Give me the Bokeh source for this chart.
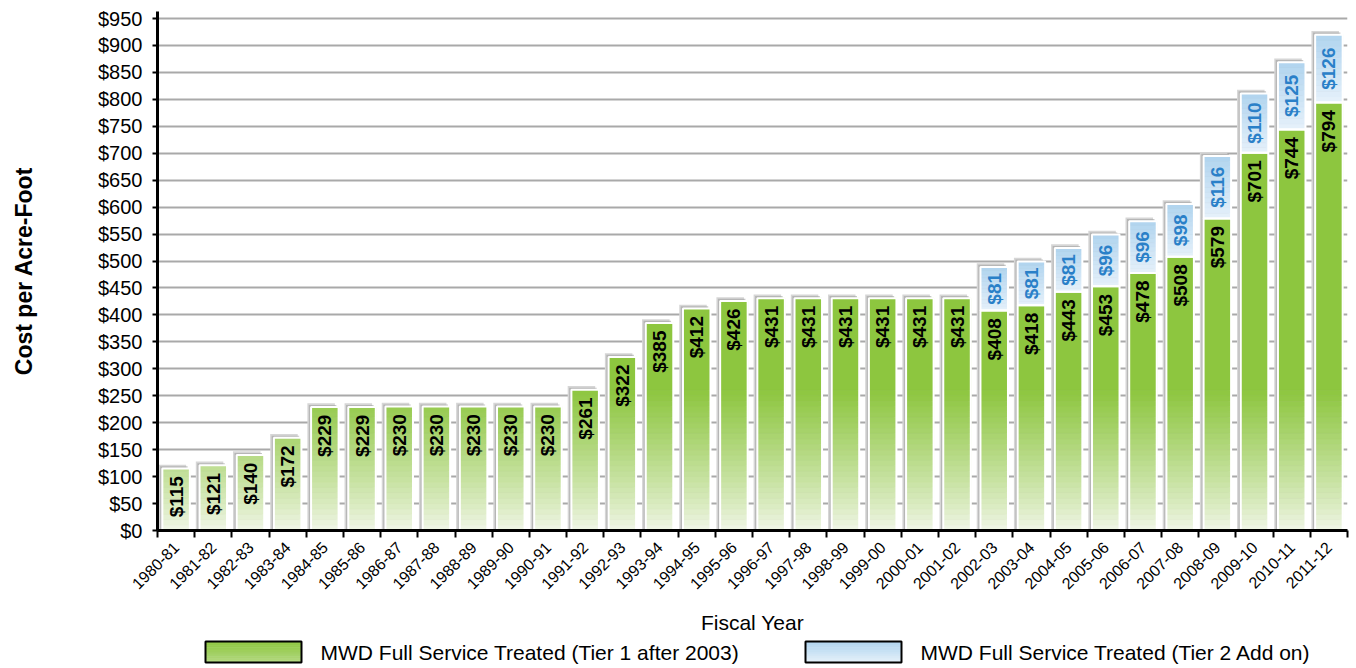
import numpy as np
from math import pi
from bokeh.plotting import figure
from bokeh.models import (Range1d, FixedTicker, SingleIntervalTicker, PrintfTickFormatter,
                          CustomJSTickFormatter)
from bokeh.layouts import column
from bokeh.core.properties import value
from bokeh.embed import file_html
from bokeh.resources import INLINE

# ---------------- data ----------------
years = ["1980-81", "1981-82", "1982-83", "1983-84", "1984-85", "1985-86", "1986-87", "1987-88",
         "1988-89", "1989-90", "1990-91", "1991-92", "1992-93", "1993-94", "1994-95", "1995-96",
         "1996-97", "1997-98", "1998-99", "1999-00", "2000-01", "2001-02", "2002-03", "2003-04",
         "2004-05", "2005-06", "2006-07", "2007-08", "2008-09", "2009-10", "2010-11", "2011-12"]
tier1 = [115, 121, 140, 172, 229, 229, 230, 230, 230, 230, 230, 261, 322, 385, 412, 426,
         431, 431, 431, 431, 431, 431, 408, 418, 443, 453, 478, 508, 579, 701, 744, 794]
tier2 = [0, 0, 0, 0, 0, 0, 0, 0, 0, 0, 0, 0, 0, 0, 0, 0,
         0, 0, 0, 0, 0, 0, 81, 81, 81, 96, 96, 98, 116, 110, 125, 126]
series_names = ["MWD Full Service Treated (Tier 1 after 2003)",
                "MWD Full Service Treated (Tier 2 Add on)"]
y_title = "Cost per Acre-Foot"
x_title = "Fiscal Year"

# ---------------- style ----------------
FONT = "Liberation Sans"
GREEN_TOP = (141, 198, 63)
GREEN_BOT = (242, 247, 234)
GREEN_MID = (180, 217, 130)
BLUE_TOP = (176, 212, 239)
BLUE_BOT = (230, 241, 250)
BAR_W = 0.74
FRAME_L, FRAME_R = 157, 1347
WIDTH = 1356


def mix(c1, c2, t):
    r = [int(round(a + (b - a) * t)) for a, b in zip(c1, c2)]
    return "#%02x%02x%02x" % tuple(r)


n = len(years)
xc = [i + 0.5 for i in range(n)]
total = [a + b for a, b in zip(tier1, tier2)]

p = figure(width=WIDTH, height=636, output_backend="svg", toolbar_location=None,
           x_range=Range1d(0, n), y_range=Range1d(0, 963),
           min_border_left=FRAME_L, min_border_right=WIDTH - FRAME_R,
           min_border_top=11, min_border_bottom=105)
p.outline_line_color = None
p.background_fill_color = "white"
p.xgrid.visible = False
p.ygrid.grid_line_color = "#a9a9a9"
p.ygrid.grid_line_width = 2

# shadows
p.vbar(x=[x - 0.1 for x in xc], width=BAR_W, bottom=0, top=[t + 7 for t in total],
       fill_color="#d6d6d6", line_color=None)
p.vbar(x=[x - 0.06 for x in xc], width=BAR_W, bottom=0, top=[t + 4 for t in total],
       fill_color="#a0a0a0", fill_alpha=0.6, line_color=None)

# green gradient (absolute in value)
edges = np.linspace(0, 260, 27)
gx, gb, gt, gc = [], [], [], []
for i in range(n):
    v = tier1[i]
    for j in range(len(edges) - 1):
        lo, hi = edges[j], edges[j + 1]
        if lo >= v:
            break
        t = ((lo + hi) / 2) / 260.0
        gx.append(xc[i]); gb.append(lo); gt.append(min(hi, v))
        gc.append(mix(GREEN_BOT, GREEN_TOP, t ** 0.85))
    if v > edges[-1]:
        gx.append(xc[i]); gb.append(edges[-1]); gt.append(v); gc.append(mix(GREEN_BOT, GREEN_TOP, 1))
p.vbar(x=gx, width=BAR_W, bottom=gb, top=gt, fill_color=gc, line_color=gc, line_width=0.6)

# blue gradient (relative within segment)
bx, bb, bt, bc = [], [], [], []
NS = 12
for i in range(n):
    if tier2[i] <= 0:
        continue
    lo0 = tier1[i]
    for k in range(NS):
        lo = lo0 + tier2[i] * k / NS
        hi = lo0 + tier2[i] * (k + 1) / NS
        col = mix(BLUE_BOT, BLUE_TOP, (k + 0.5) / NS)
        bx.append(xc[i]); bb.append(lo); bt.append(hi); bc.append(col)
p.vbar(x=bx, width=BAR_W, bottom=bb, top=bt, fill_color=bc, line_color=bc, line_width=0.6)

# white outlines
p.vbar(x=xc, width=BAR_W, bottom=0, top=tier1, fill_color=None, line_color="white", line_width=2)
ix2 = [i for i in range(n) if tier2[i] > 0]
p.vbar(x=[xc[i] for i in ix2], width=BAR_W, bottom=[tier1[i] for i in ix2],
       top=[total[i] for i in ix2], fill_color=None, line_color="white", line_width=2)

# labels
p.text(x=xc, y=[v - 14 for v in tier1], text=["$%d" % v for v in tier1], angle=pi / 2,
       text_align="right", text_baseline="middle", text_font=value(FONT),
       text_font_style="bold", text_font_size="19px", text_color="black")
p.text(x=[xc[i] for i in ix2], y=[tier1[i] + tier2[i] / 2 for i in ix2],
       text=["$%d" % tier2[i] for i in ix2], angle=pi / 2,
       text_align="center", text_baseline="middle", text_font=value(FONT),
       text_font_style="bold", text_font_size="19px", text_color="#2a80c8")

# axes
yax = p.yaxis[0]
yax.ticker = SingleIntervalTicker(interval=50, num_minor_ticks=0)
p.ygrid.ticker = yax.ticker
yax.formatter = PrintfTickFormatter(format="$%d")
yax.axis_line_color = "black"
yax.axis_line_width = 3
yax.major_tick_line_width = 2
yax.major_tick_out = 5
yax.major_tick_in = 0
yax.minor_tick_line_color = None
yax.major_label_text_font = FONT
yax.major_label_text_font_size = "20px"
yax.major_label_text_color = "black"
yax.major_label_standoff = 10
yax.axis_label = y_title
yax.axis_label_text_font = FONT
yax.axis_label_text_font_style = "bold"
yax.axis_label_text_font_size = "23px"
yax.axis_label_text_color = "black"
yax.axis_label_standoff = 58

xax = p.xaxis[0]
xax.ticker = FixedTicker(ticks=xc, minor_ticks=list(range(n + 1)))
xax.formatter = CustomJSTickFormatter(args=dict(labels=years),
                                      code="return labels[Math.floor(tick)] || '';")
xax.axis_line_color = "black"
xax.axis_line_width = 3
xax.major_tick_out = 0
xax.major_tick_in = 0
xax.minor_tick_out = 7
xax.minor_tick_in = 0
xax.minor_tick_line_width = 2
xax.minor_tick_line_color = "black"
xax.major_label_orientation = pi / 4
xax.major_label_text_font = FONT
xax.major_label_text_font_size = "16px"
xax.major_label_text_color = "black"
xax.major_label_standoff = 7
xax.axis_label = x_title
xax.axis_label_text_font = FONT
xax.axis_label_text_font_style = "normal"
xax.axis_label_text_font_size = "21px"
xax.axis_label_text_color = "black"
xax.axis_label_standoff = 13

# ---------------- legend figure (x in page pixels, frame aligned with main frame) ----------------
leg = figure(width=WIDTH, height=28, output_backend="svg", toolbar_location=None,
             x_range=Range1d(FRAME_L, FRAME_R), y_range=Range1d(0, 28),
             min_border=0, min_border_left=FRAME_L, min_border_right=WIDTH - FRAME_R,
             min_border_top=0, min_border_bottom=0)
leg.axis.visible = False
leg.grid.visible = False
leg.outline_line_color = None

box_left = [205, 805]
box_w = 96
lx, lb, lt, lc = [], [], [], []
NSL = 10
for k, (ctop, cbot) in enumerate([(GREEN_TOP, GREEN_MID), (BLUE_TOP, BLUE_BOT)]):
    for s in range(NSL):
        lo = 2 + 21 * s / NSL
        hi = 2 + 21 * (s + 1) / NSL
        col = mix(cbot, ctop, (s + 0.5) / NSL)
        lx.append(box_left[k] + box_w / 2); lb.append(lo); lt.append(hi); lc.append(col)
leg.vbar(x=lx, width=box_w, bottom=lb, top=lt, fill_color=lc, line_color=lc, line_width=0.6)
leg.vbar(x=[b + box_w / 2 for b in box_left], width=box_w, bottom=2, top=23,
         fill_color=None, line_color="black", line_width=2)
leg.text(x=[b + box_w + 19 for b in box_left], y=12.5, text=series_names,
         text_align="left", text_baseline="middle", text_font=value(FONT),
         text_font_size="21px", text_color="black")

layout = column(p, leg, spacing=0)
open("out.html", "w").write(file_html(layout, INLINE))
